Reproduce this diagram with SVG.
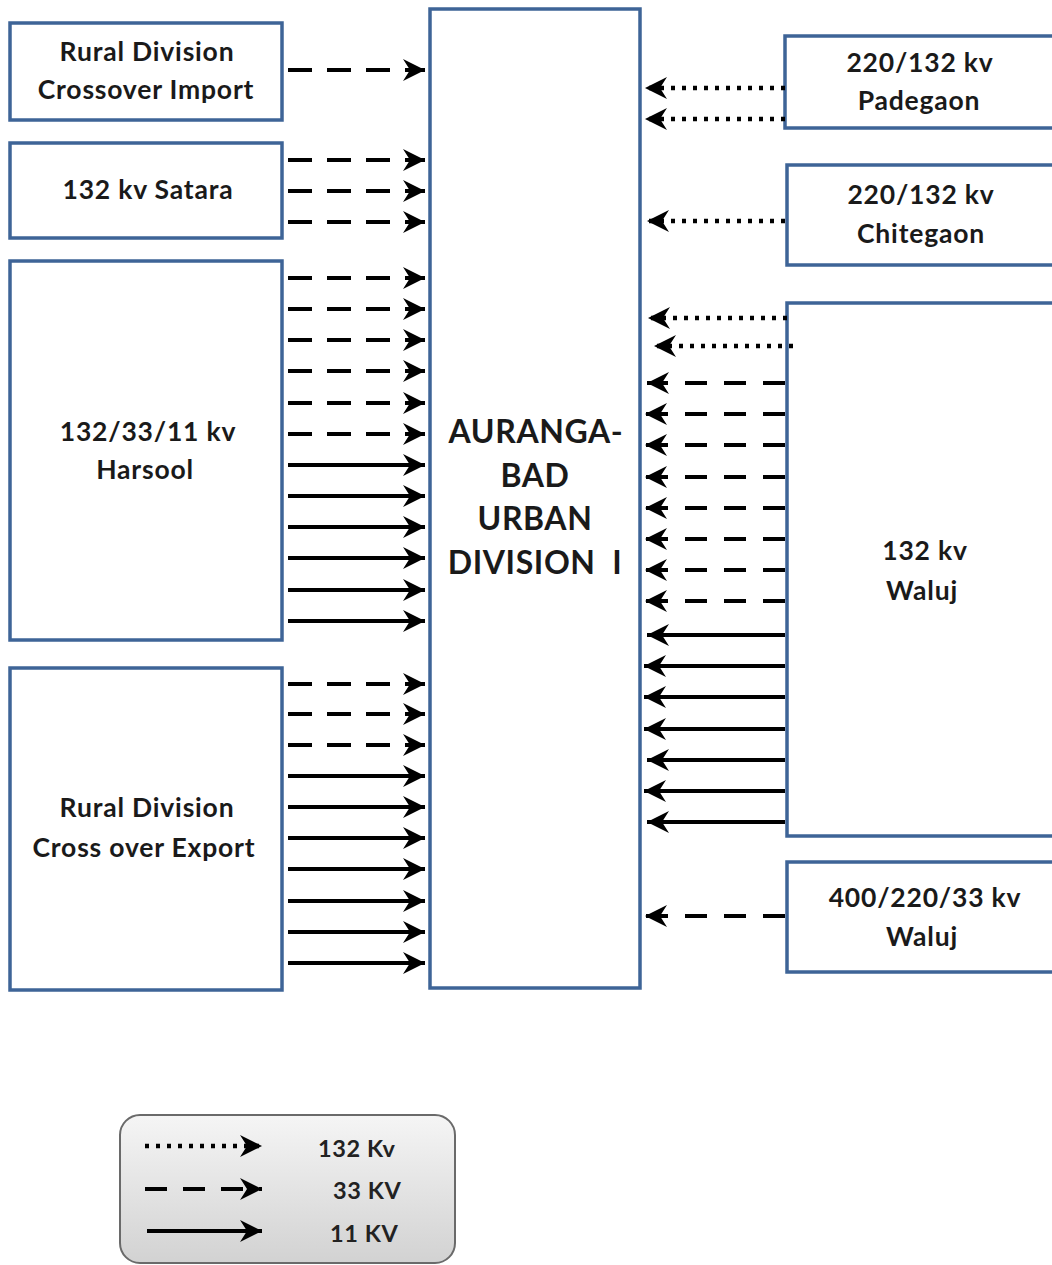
<svg xmlns="http://www.w3.org/2000/svg" width="1052" height="1265" viewBox="0 0 1052 1265">
<style>
.box{fill:#fff;stroke:#3e6497;stroke-width:3.5}
.t{font-family:Lato,"Liberation Sans",sans-serif;font-weight:700;font-size:26.5px;letter-spacing:0.8px;fill:#1a1a1a;text-anchor:middle}
.big{font-size:32px;letter-spacing:0.6px}
.ln{stroke:#000;stroke-width:4;fill:none}
.dash{stroke-dasharray:24 15}
.dashr{stroke-dasharray:22 17}
.dot{stroke-dasharray:4 7;stroke-width:4.5}
.lg{font-family:Lato,"Liberation Sans",sans-serif;font-weight:700;font-size:23.5px;letter-spacing:0.6px;fill:#222}
</style>
<defs>
<marker id="ah" markerUnits="userSpaceOnUse" markerWidth="24" markerHeight="24" refX="22" refY="11" orient="auto" overflow="visible">
<path d="M0,0 L22,11 L0,22 L7,11 z" fill="#000"/>
</marker>
<linearGradient id="lgf" x1="0" y1="0" x2="0" y2="1">
<stop offset="0" stop-color="#f5f5f5"/>
<stop offset="1" stop-color="#d2d2d2"/>
</linearGradient>
</defs>
<rect width="1052" height="1265" fill="#fff"/>

<g id="n-rural-import"><rect class="box" x="10" y="23" width="272" height="97"/><text class="t" x="147" y="61">Rural Division</text><text class="t" x="146" y="99">Crossover Import</text></g>
<g id="n-satara"><rect class="box" x="10" y="143" width="272" height="95"/><text class="t" x="148" y="199">132 kv Satara</text></g>
<g id="n-harsool"><rect class="box" x="10" y="261" width="272" height="379"/><text class="t" x="148" y="441">132/33/11 kv</text><text class="t" x="145" y="479">Harsool</text></g>
<g id="n-rural-export"><rect class="box" x="10" y="668" width="272" height="322"/><text class="t" x="147" y="817">Rural Division</text><text class="t" x="144" y="857">Cross over Export</text></g>
<g id="n-center"><rect class="box" x="430" y="9" width="210" height="979"/>
<text class="t big" x="536" y="443">AURANGA-</text><text class="t big" x="535" y="487">BAD</text><text class="t big" x="535" y="530">URBAN</text><text class="t big" x="535" y="574">DIVISION&#8194;I</text></g>
<g id="n-padegaon"><rect class="box" x="785" y="36" width="280" height="92"/><text class="t" x="920" y="72">220/132 kv</text><text class="t" x="919" y="110">Padegaon</text></g>
<g id="n-chitegaon"><rect class="box" x="787" y="165" width="280" height="100"/><text class="t" x="921" y="204">220/132 kv</text><text class="t" x="921" y="243">Chitegaon</text></g>
<g id="n-waluj132"><rect class="box" x="787" y="303" width="280" height="533"/><text class="t" x="925" y="560">132 kv</text><text class="t" x="922" y="600">Waluj</text></g>
<g id="n-waluj400"><rect class="box" x="787" y="862" width="280" height="110"/><text class="t" x="925" y="907">400/220/33 kv</text><text class="t" x="922" y="946">Waluj</text></g>

<g id="connectors">
<path class="ln dash" marker-end="url(#ah)" d="M288,70H425"/>
<path class="ln dash" marker-end="url(#ah)" d="M288,160H425"/>
<path class="ln dash" marker-end="url(#ah)" d="M288,191H425"/>
<path class="ln dash" marker-end="url(#ah)" d="M288,222H425"/>
<path class="ln dash" marker-end="url(#ah)" d="M288,278H425"/>
<path class="ln dash" marker-end="url(#ah)" d="M288,309H425"/>
<path class="ln dash" marker-end="url(#ah)" d="M288,340H425"/>
<path class="ln dash" marker-end="url(#ah)" d="M288,371H425"/>
<path class="ln dash" marker-end="url(#ah)" d="M288,403H425"/>
<path class="ln dash" marker-end="url(#ah)" d="M288,434H425"/>
<path class="ln" marker-end="url(#ah)" d="M288,465H425"/>
<path class="ln" marker-end="url(#ah)" d="M288,496H425"/>
<path class="ln" marker-end="url(#ah)" d="M288,527H425"/>
<path class="ln" marker-end="url(#ah)" d="M288,558H425"/>
<path class="ln" marker-end="url(#ah)" d="M288,590H425"/>
<path class="ln" marker-end="url(#ah)" d="M288,621H425"/>
<path class="ln dash" marker-end="url(#ah)" d="M288,684H425"/>
<path class="ln dash" marker-end="url(#ah)" d="M288,714H425"/>
<path class="ln dash" marker-end="url(#ah)" d="M288,745H425"/>
<path class="ln" marker-end="url(#ah)" d="M288,776H425"/>
<path class="ln" marker-end="url(#ah)" d="M288,807H425"/>
<path class="ln" marker-end="url(#ah)" d="M288,838H425"/>
<path class="ln" marker-end="url(#ah)" d="M288,869H425"/>
<path class="ln" marker-end="url(#ah)" d="M288,901H425"/>
<path class="ln" marker-end="url(#ah)" d="M288,932H425"/>
<path class="ln" marker-end="url(#ah)" d="M288,963H425"/>
<path class="ln dot" marker-end="url(#ah)" d="M785,88H645"/>
<path class="ln dot" marker-end="url(#ah)" d="M785,119H645"/>
<path class="ln dot" marker-end="url(#ah)" d="M785,221H647"/>
<path class="ln dot" marker-end="url(#ah)" d="M787,318H648"/>
<path class="ln dot" marker-end="url(#ah)" d="M793,346H654"/>
<path class="ln dashr" marker-end="url(#ah)" d="M785,383H647"/>
<path class="ln dashr" marker-end="url(#ah)" d="M785,414H645"/>
<path class="ln dashr" marker-end="url(#ah)" d="M785,445H645"/>
<path class="ln dashr" marker-end="url(#ah)" d="M785,477H645"/>
<path class="ln dashr" marker-end="url(#ah)" d="M785,508H645"/>
<path class="ln dashr" marker-end="url(#ah)" d="M785,539H645"/>
<path class="ln dashr" marker-end="url(#ah)" d="M785,570H645"/>
<path class="ln dashr" marker-end="url(#ah)" d="M785,601H645"/>
<path class="ln" marker-end="url(#ah)" d="M785,635H647"/>
<path class="ln" marker-end="url(#ah)" d="M785,666H644"/>
<path class="ln" marker-end="url(#ah)" d="M785,697H644"/>
<path class="ln" marker-end="url(#ah)" d="M785,729H644"/>
<path class="ln" marker-end="url(#ah)" d="M785,760H647"/>
<path class="ln" marker-end="url(#ah)" d="M785,791H644"/>
<path class="ln" marker-end="url(#ah)" d="M785,822H647"/>
<path class="ln dashr" marker-end="url(#ah)" d="M785,916H645"/>
</g>

<g id="legend">
<rect x="120" y="1115" width="335" height="148" rx="20" fill="url(#lgf)" stroke="#6a6a6a" stroke-width="2"/>
<path class="ln dot" marker-end="url(#ah)" d="M145,1146H262"/>
<path class="ln" style="stroke-dasharray:22 16" marker-end="url(#ah)" d="M145,1189H262"/>
<path class="ln" marker-end="url(#ah)" d="M147,1231H262"/>
<text class="lg" x="318" y="1157">132 Kv</text>
<text class="lg" x="333" y="1199">33 KV</text>
<text class="lg" x="330" y="1242">11 KV</text>
</g>
</svg>
